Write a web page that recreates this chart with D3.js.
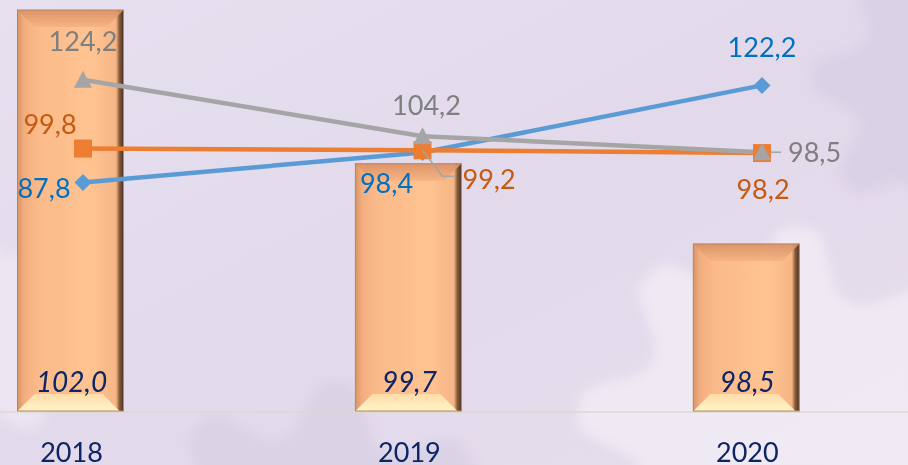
<!DOCTYPE html>
<html><head><meta charset="utf-8">
<script src="https://cdn.jsdelivr.net/npm/d3@7"></script>
<style>
html,body{margin:0;padding:0;background:#e4ddec;}
svg{display:block;}
text{font-family:Lato,"Open Sans",sans-serif;}
</style></head>
<body>
<svg id="chart" width="908" height="465"></svg>
<script>
// ---- data ----
const categories = ["2018", "2019", "2020"];
const barValues = [102.0, 99.7, 98.5];
const greyValues = [124.2, 104.2, 98.5];
const orangeValues = [99.8, 99.2, 98.2];
const blueValues = [87.8, 98.4, 122.2];

const fmt = v => d3.format(".1f")(v).replace(".", ",");

const W = 908, H = 465;
const svg = d3.select("#chart");
const defs = svg.append("defs");

// background
const bg = defs.append("linearGradient").attr("id","bg").attr("x1","0").attr("y1","0").attr("x2","1").attr("y2","1");
bg.append("stop").attr("offset","0").attr("stop-color","#e6e0ef");
bg.append("stop").attr("offset","0.5").attr("stop-color","#e2daeb");
bg.append("stop").attr("offset","1").attr("stop-color","#e6dcec");
svg.append("rect").attr("width",W).attr("height",H).attr("fill","url(#bg)");
defs.append("filter").attr("id","blur").attr("x","-20%").attr("y","-20%").attr("width","140%").attr("height","140%")
  .append("feGaussianBlur").attr("stdDeviation",6);

function gearPath(cx, cy, r, teeth, depth) {
  const pts = [];
  const n = teeth * 4;
  for (let i = 0; i < n; i++) {
    const a = i / n * Math.PI * 2;
    const k = i % 4;
    const rr = (k === 0 || k === 1) ? r + depth : r;
    pts.push([cx + rr * Math.cos(a), cy + rr * Math.sin(a)]);
  }
  return d3.line().curve(d3.curveCardinalClosed.tension(0.3))(pts);
}
const bgG = svg.append("g").attr("filter","url(#blur)");
bgG.append("path").attr("d", gearPath(780, 430, 150, 8, 50)).attr("fill","#f4f0f7").attr("opacity",0.7);
bgG.append("path").attr("d", gearPath(320, 570, 140, 8, 45)).attr("fill","#d3cbe0").attr("opacity",0.55);
bgG.append("path").attr("d", gearPath(960, 90, 110, 8, 35)).attr("fill","#d6cce2").attr("opacity",0.7);
bgG.append("path").attr("d", gearPath(-40, 330, 90, 8, 30)).attr("fill","#f1edf6").attr("opacity",0.6);

// scales
const xBar = d3.scalePoint().domain(categories).range([70.5, 746.3]);
const xLine = d3.scalePoint().domain(categories).range([83, 762]);
const yBar = d3.scaleLinear().domain([96, 102]).range([411, 10]);
const yLine = d3.scaleLinear().domain([0, 150]).range([430, 7]);
const barW = 106;

// baseline
svg.append("line").attr("x1",0).attr("x2",W).attr("y1",412).attr("y2",412)
  .attr("stroke","#dcd8cf").attr("stroke-width",1.5);

// bar gradients
const bodyG = defs.append("linearGradient").attr("id","body").attr("x1","0").attr("x2","1").attr("y1","0").attr("y2","0");
[["0","#d99466"],["0.06","#f2ad7f"],["0.2","#fbba89"],["0.7","#ffc392"],["0.93","#f6b585"],["0.96","#8a5e3e"],["1","#4a3020"]]
  .forEach(s => bodyG.append("stop").attr("offset",s[0]).attr("stop-color",s[1]));
const topG = defs.append("linearGradient").attr("id","topb").attr("x1","0").attr("x2","0").attr("y1","0").attr("y2","1");
topG.append("stop").attr("offset","0").attr("stop-color","#d99066");
topG.append("stop").attr("offset","1").attr("stop-color","#f5b283");
const botG = defs.append("linearGradient").attr("id","botb").attr("x1","0").attr("x2","0").attr("y1","0").attr("y2","1");
botG.append("stop").attr("offset","0").attr("stop-color","#ffdca8");
botG.append("stop").attr("offset","1").attr("stop-color","#fff4c9");

const b = 17;
const bars = svg.append("g").selectAll("g").data(barValues).join("g")
  .attr("transform", (d,i) => `translate(${xBar(categories[i]) - barW/2},${yBar(d)})`);
bars.append("rect").attr("width", barW).attr("height", d => yBar(96) - yBar(d))
  .attr("fill","url(#body)");
bars.append("path").attr("d", d => `M0,0H${barW}L${barW-b},${b}H${b}Z`).attr("fill","url(#topb)").attr("opacity",0.9);
bars.append("path").attr("d", d => {const h = yBar(96) - yBar(d); return `M0,${h}H${barW-4}L${barW-4-b},${h-b}H${b}Z`;})
  .attr("fill","url(#botb)");
bars.append("rect").attr("width", barW).attr("height", d => yBar(96) - yBar(d))
  .attr("fill","none").attr("stroke","#b7845e").attr("stroke-width",1);

// bar labels
svg.append("g").selectAll("text").data(barValues).join("text")
  .attr("x", (d,i) => xBar(categories[i]) + 1).attr("y", 392)
  .attr("text-anchor","middle").attr("font-size",28).attr("font-style","italic")
  .attr("fill","#0b2566").text(d => fmt(d));

// category labels
svg.append("g").selectAll("text").data(categories).join("text")
  .attr("x", d => xBar(d) + 1).attr("y", 462)
  .attr("text-anchor","middle").attr("font-size",27).attr("fill","#0b2566").text(d => d);

// lines
const series = [
  {name:"grey", values: greyValues, color:"#a5a5a5", label:"#7f7f7f", marker:"triangle"},
  {name:"orange", values: orangeValues, color:"#ed7d31", label:"#c55a11", marker:"square"},
  {name:"blue", values: blueValues, color:"#5b9bd5", label:"#0070c0", marker:"diamond"}
];
// label placement offsets (layout), [dx, dy, anchor]
const placement = {
  grey:   [[0,-29,"middle"],[4,-21,"middle"],[26,10,"start"]],
  orange: [[-33,-15,"middle"],[40,39,"start"],[1,46,"middle"]],
  blue:   [[-39,16,"middle"],[-36,40,"middle"],[0,-28,"middle"]]
};
const line = d3.line().x((d,i) => xLine(categories[i])).y(d => yLine(d));
const drawOrder = [series[2], series[1], series[0]];
drawOrder.forEach(s => {
  svg.append("path").datum(s.values).attr("d", line).attr("fill","none")
    .attr("stroke", s.color).attr("stroke-width",4.5).attr("stroke-linejoin","round");
});
drawOrder.forEach(s => {
  const g = svg.append("g");
  s.values.forEach((v,i) => {
    const cx = xLine(categories[i]), cy = yLine(v);
    if (s.marker === "square") g.append("rect").attr("x",cx-9).attr("y",cy-9).attr("width",18).attr("height",18).attr("fill",s.color);
    else if (s.marker === "diamond") g.append("path").attr("d",`M${cx},${cy-8.5}L${cx+8.5},${cy}L${cx},${cy+8.5}L${cx-8.5},${cy}Z`).attr("fill",s.color);
    else g.append("path").attr("d",`M${cx},${cy-9}L${cx+9},${cy+8}L${cx-9},${cy+8}Z`).attr("fill",s.color);
  });
});
// leader lines
const lead = svg.append("g").attr("fill","none").attr("stroke","#a5a5a5").attr("stroke-width",1.5);
{
  const cx = xLine(categories[1]), cy = yLine(orangeValues[1]);
  lead.append("path").attr("d", `M${cx},${cy}L${cx+20},${cy+26}H${cx+33}`);
  const cx2 = xLine(categories[2]), cy2 = yLine(greyValues[2]);
  lead.append("path").attr("d", `M${cx2+8},${cy2}H${cx2+19}`);
}
// value labels
series.forEach(s => {
  svg.append("g").selectAll("text").data(s.values).join("text")
    .attr("x", (d,i) => xLine(categories[i]) + placement[s.name][i][0])
    .attr("y", (d,i) => yLine(d) + placement[s.name][i][1])
    .attr("text-anchor", (d,i) => placement[s.name][i][2])
    .attr("font-size",27).attr("fill", s.label).text(d => fmt(d));
});
</script>
</body></html>
